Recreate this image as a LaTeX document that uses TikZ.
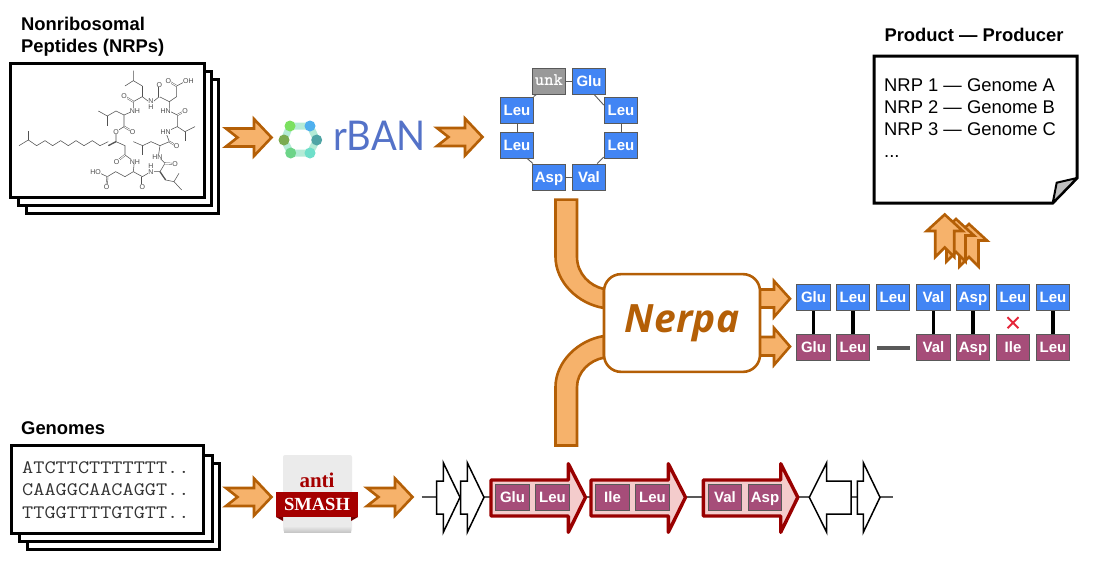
\documentclass[tikz,border=0pt]{standalone}
\usepackage{fontspec}
\setmainfont{Liberation Sans}
\newfontfamily\serifof{Liberation Serif}
\newfontfamily\nerpaf[LetterSpace=1]{Open Sans}
\newfontfamily\rbanf{Lato}
\newcommand{\fs}[1]{\fontsize{#1}{#1}\selectfont}
\definecolor{flowfill}{HTML}{F6B26B}
\definecolor{flowline}{HTML}{B45F06}
\definecolor{modblue}{HTML}{4285F4}
\definecolor{modpurple}{HTML}{A64D79}
\definecolor{modedge}{HTML}{595959}
\definecolor{genered}{HTML}{990000}
\definecolor{genefill}{HTML}{F4CCCC}
\definecolor{rbanblue}{HTML}{5472C8}
\definecolor{ringpale}{HTML}{B4EBD6}
\definecolor{asred}{HTML}{A50000}
\definecolor{crossred}{HTML}{E5263A}
\tikzset{
  flow/.style={draw=flowline,fill=flowfill,line width=2.6pt,line join=miter},
  modbase/.style={draw=modedge,line width=1pt,minimum width=33.5pt,minimum height=26pt,inner sep=0pt,text=white,font=\fs{15}\bfseries,text height=10.8pt,text depth=0pt},
  bluemod/.style={modbase,fill=modblue},
  purplemod/.style={modbase,fill=modpurple},
  greymod/.style={modbase,fill=black!40,font=\fs{17.8}\ttfamily\bfseries,text height=8pt},
  ringlink/.style={draw=modedge,line width=.9pt},
  alignlink/.style={draw=black,line width=3.4pt},
  sheet/.style={draw=black,fill=white,line width=3pt,line join=miter},
  title/.style={font=\fs{18.4}\bfseries,anchor=base west,inner sep=0pt},
  gene/.style={draw=black,fill=white,line width=1.5pt,line join=miter},
  redgene/.style={draw=genered,fill=genefill,line width=3.4pt,line join=round},
  mol/.style={draw=black!68,line width=.55pt},
  molb/.style={draw=black!68,line width=.45pt,double=white,double distance=.9pt},
  atomlab/.style={font=\fs{7},text=black!70,fill=white,inner sep=.3pt,align=center},
  seq/.style={font=\fs{19}\ttfamily,text=black!80,anchor=base west,inner sep=0pt,xscale=1.14,transform shape},
  pairtxt/.style={font=\fs{18.4},anchor=base west,inner sep=0pt},
  chev/.pic={\draw[flow] (-23,-9) -- (5,-9) -- (5,-18.5) -- (22.5,0) -- (5,18.5) -- (5,9) -- (-23,9) -- (-11.5,0) -- cycle;},
  uparr/.pic={\draw[flow] (0,0) -- (18,16.5) -- (9.5,16.5) -- (9.5,42.5) -- (0,33) -- (-9.5,42.5) -- (-9.5,16.5) -- (-18,16.5) -- cycle;}
}
\begin{document}
\begin{tikzpicture}[x=1pt,y=-1pt]
\useasboundingbox (0,0) rectangle (1100,560);
% --- NRP stack
\draw[sheet] (26,79) rectangle (218,213);
\draw[sheet] (18,71) rectangle (211,205);
\draw[sheet] (10,63) rectangle (204,197);
\node[title] (nrpT1) at (21,30) {Nonribosomal};
\node[title] (nrpT2) at (21,52) {Peptides (NRPs)};
% --- molecule
\begin{scope}[x=.3333pt,y=-.3333pt]
\draw[mol] (57,437) -- (85,420) -- (110,437) -- (135,422) -- (158,437) -- (182,422) -- (205,437) -- (228,422) -- (252,437) -- (277,422) -- (300,437) -- (325,425);
\draw[mol] (85,420) -- (85,393);
\draw[mol,line width=1.3pt] (325,437) -- (348,425);
\draw[mol] (348,425) -- (348,395) -- (372,380) -- (372,345) -- (400,333) -- (400,305) -- (427,290);
\draw[molb] (372,380) -- (398,395);
\draw[mol] (372,345) -- (348,333) -- (322,348) -- (295,333);
\draw[mol] (322,348) -- (322,378);
\draw[molb] (400,305) -- (372,288);
\draw[mol,line width=1.3pt] (427,290) -- (427,258);
\draw[mol] (427,258) -- (400,242) -- (400,212);
\draw[mol] (400,242) -- (375,258);
\draw[mol] (427,290) -- (453,310) -- (478,290) -- (508,305) -- (530,290) -- (530,258) -- (558,243);
\draw[molb] (478,290) -- (478,255);
\draw[molb] (530,258) -- (505,243);
\draw[mol] (508,305) -- (508,333) -- (532,345) -- (532,380) -- (555,395) -- (585,380);
\draw[molb] (532,345) -- (555,333);
\draw[mol] (555,395) -- (555,422);
\draw[mol] (532,380) -- (497,396) -- (508,425) -- (480,437) -- (453,425) -- (428,437) -- (400,425);
\draw[molb] (508,425) -- (530,438);
\draw[mol] (428,437) -- (428,465);
\draw[mol] (480,437) -- (475,470) -- (495,490) -- (480,515) -- (453,515) -- (427,530) -- (400,515) -- (375,530) -- (347,515) -- (322,530) -- (290,515);
\draw[molb] (495,490) -- (525,492);
\draw[mol,line width=1.3pt] (480,515) -- (497,540);
\draw[mol] (497,540) -- (522,545) -- (545,570);
\draw[mol] (522,545) -- (537,520);
\draw[molb] (427,530) -- (427,560);
\draw[molb] (322,530) -- (320,560);
\draw[mol] (400,515) -- (403,485) -- (375,465) -- (375,437) -- (348,425);
\draw[molb] (375,465) -- (350,485);
\foreach \ax/\ay/\at [count=\i] in {348/395/O,398/395/O,405/333/NH,372/288/O,453/312/{N\\[-1.5pt]H},478/254/O,505/243/O,565/243/OH,497/333/HN,555/333/O,497/396/HN,530/438/O,472/470/HN,525/492/O,453/508/{H\\[-1.5pt]N},427/560/O,405/485/NH,350/485/O,287/515/HO,320/560/O}
  \node[atomlab] (atom\i) at (\ax,\ay) {\at};
\end{scope}
% --- arrows top
\pic at (249,137.5) {chev};
\pic at (460,137) {chev};
% --- rBAN logo
\draw[ringpale,line width=7pt,line join=round] (290,126) -- (310,126) -- (316.7,140) -- (310,153) -- (290.7,153) -- (284,140) -- cycle;
\foreach \cx/\cy/\cc [count=\i] in {290/126/7BE05F,310/126/4FB0EE,284/140/7AAB50,316.7/140/4FA5A5,290.7/153/6CD488,310/153/6FDFCA}{
  \definecolor{dotc}{HTML}{\cc}
  \node[circle,fill=dotc,minimum size=11pt,inner sep=0pt] (rbandot\i) at (\cx,\cy) {};
}
\node[font=\fs{41}\rbanf,text=rbanblue,inner sep=0pt,anchor=base west,xscale=.93,transform shape] (rban) at (333,150) {rBAN};
% --- ring
\node[greymod] (unk) at (549,81) {unk};
\node[bluemod] (rGlu) at (589,81) {Glu};
\node[bluemod] (rLeuA) at (621,110) {Leu};
\node[bluemod] (rLeuB) at (621,145) {Leu};
\node[bluemod] (rVal) at (589,177) {Val};
\node[bluemod] (rAsp) at (549,177) {Asp};
\node[bluemod] (rLeuC) at (517,145) {Leu};
\node[bluemod] (rLeuD) at (517,110) {Leu};
\draw[ringlink] (unk) -- (rGlu);
\draw[ringlink] (rGlu.-69) -- (rLeuA.164);
\draw[ringlink] (rLeuA) -- (rLeuB);
\draw[ringlink] (rLeuB.-145) -- (rVal.59);
\draw[ringlink] (rVal) -- (rAsp);
\draw[ringlink] (rAsp.140) -- (rLeuC.-53);
\draw[ringlink] (rLeuC) -- (rLeuD);
\draw[ringlink] (rLeuD.39) -- (unk.-133);
% --- tubes and Nerpa
\draw[flow] (555.5,199.6) -- (577,199.6) -- (577,256.7) .. controls (577,274) and (590,286) .. (604,289) -- (604,308) .. controls (578,304) and (555.5,282) .. (555.5,256.7) -- cycle;
\draw[flow] (555.5,445.5) -- (577,445.5) -- (577,387) .. controls (577,372) and (590,360) .. (604,357.7) -- (604,336) .. controls (578,340) and (555.5,362) .. (555.5,387) -- cycle;
\draw[flow] (758,289.5) -- (774,289.5) -- (774,281) -- (790,298.7) -- (774,317) -- (774,307.5) -- (758,307.5) -- cycle;
\draw[flow] (758,337) -- (774,337) -- (774,328) -- (790,346.5) -- (774,365) -- (774,355.5) -- (758,355.5) -- cycle;
\node[draw=flowline,fill=white,line width=2.6pt,rounded corners=17pt,minimum width=156pt,minimum height=97.7pt,inner sep=0pt,font=\fs{39}\nerpaf\bfseries\itshape,text=flowline] (nerpa) at (682,323) {Nerpa};
% --- alignment
\foreach \nm/\cx/\tx in {a/813.5/Glu,b/853/Leu,c/893/Leu,d/933.5/Val,e/973/Asp,f/1013/Leu,g/1053/Leu}
  \node[bluemod] (top\nm) at (\cx,297.3) {\tx};
\foreach \nm/\cx/\tx in {a/813.5/Glu,b/853/Leu,d/933.5/Val,e/973/Asp,f/1013/Ile,g/1053/Leu}
  \node[purplemod] (bot\nm) at (\cx,347.3) {\tx};
\foreach \nm in {a,b,d,e,g}
  \draw[alignlink] (top\nm) -- (bot\nm);
\node[inner sep=0pt,minimum width=33pt,minimum height=3.6pt,fill=modedge] (gapbar) at (893.5,347.7) {};
\coordinate (mismatch) at (1013,322.7);
\draw[draw=crossred,line width=2pt] ([shift={(-5.5,-5.5)}]mismatch) -- ([shift={(5.5,5.5)}]mismatch);
\draw[draw=crossred,line width=2pt] ([shift={(5.5,-5.5)}]mismatch) -- ([shift={(-5.5,5.5)}]mismatch);
% --- up arrows
\pic at (969,224) {uparr};
\pic at (956,219) {uparr};
\pic at (944.7,214.5) {uparr};
% --- result sheet
\draw[sheet] (874,56) -- (1077,56) -- (1077,178) -- (1052.7,203) -- (874,203) -- cycle;
\draw[draw=black,fill=black!25,line width=2pt,line join=round] (1077,178) -- (1056.7,182.7) -- (1052.7,203) -- cycle;
\node[font=\fs{18.4}\bfseries,inner sep=0pt,anchor=base] (prodT) at (974,41) {Product — Producer};
\node[pairtxt] (pair1) at (884,91) {NRP 1 — Genome A};
\node[pairtxt] (pair2) at (884,113) {NRP 2 — Genome B};
\node[pairtxt] (pair3) at (884,135) {NRP 3 — Genome C};
\node[pairtxt] (pair4) at (884,157) {...};
% --- genomes
\draw[sheet] (27,463) rectangle (219,549);
\draw[sheet] (19,455) rectangle (212,541);
\draw[sheet] (11,445) rectangle (203,533);
\node[title] (genT) at (21,434) {Genomes};
\node[seq] (seq1) at (22,473) {ATCTTCTTTTTTT..};
\node[seq] (seq2) at (22,495) {CAAGGCAACAGGT..};
\node[seq] (seq3) at (22,518) {TTGGTTTTGTGTT..};
\pic at (249,497) {chev};
\pic at (390,497) {chev};
% --- antiSMASH logo
\node[fill=black!8,rounded corners=2pt,minimum width=69pt,minimum height=77pt,inner sep=0pt] (asbox) at (317.5,493.5) {};
\shade[top color=black!8,bottom color=black!22] (284,526) rectangle (351,532);
\fill[asred!70!black] (276,517) -- (283,521) -- (283,515) -- cycle;
\fill[asred!70!black] (358,517) -- (351,521) -- (351,515) -- cycle;
\node[fill=asred,minimum width=82pt,minimum height=25pt,inner sep=0pt,font=\fs{18.5}\serifof\bfseries,text=white] (asribbon) at (317,504.5) {SMASH};
\node[font=\fs{21}\serifof\bfseries,text=asred,inner sep=0pt] (asanti) at (317,480) {anti};
% --- gene track
\coordinate (trackL) at (421.7,497.3);
\coordinate (trackR) at (893,497.3);
\draw[draw=modedge,line width=1.8pt] (trackL) -- (trackR);
\draw[gene] (436.7,481) -- (443.3,481) -- (443.3,462.7) -- (460,497.3) -- (443.3,532.3) -- (443.3,514) -- (436.7,514) -- cycle;
\draw[gene] (460.7,481) -- (467.3,481) -- (467.3,462.7) -- (484,497.3) -- (467.3,532.3) -- (467.3,514) -- (460.7,514) -- cycle;
\draw[gene] (851,481) -- (826.7,481) -- (826.7,462.7) -- (809.3,497.3) -- (826.7,532.3) -- (826.7,514) -- (851,514) -- cycle;
\draw[gene] (857.3,481) -- (863.3,481) -- (863.3,462.7) -- (880,497.3) -- (863.3,532.3) -- (863.3,514) -- (857.3,514) -- cycle;
\draw[redgene] (491,480) -- (568.3,480) -- (568.3,463.7) -- (585.5,497.3) -- (568.3,532.3) -- (568.3,516) -- (491,516) -- cycle;
\draw[redgene] (591,480) -- (668.3,480) -- (668.3,463.7) -- (685.5,497.3) -- (668.3,532.3) -- (668.3,516) -- (591,516) -- cycle;
\draw[redgene] (703.3,480) -- (780.7,480) -- (780.7,463.7) -- (797.8,497.3) -- (780.7,532.3) -- (780.7,516) -- (703.3,516) -- cycle;
\node[purplemod] (gGlu) at (512.5,497.5) {Glu};
\node[purplemod] (gLeuA) at (552.5,497.5) {Leu};
\node[purplemod] (gIle) at (612.5,497.5) {Ile};
\node[purplemod] (gLeuB) at (652.5,497.5) {Leu};
\node[purplemod] (gVal) at (725,497.5) {Val};
\node[purplemod] (gAsp) at (765,497.5) {Asp};
\end{tikzpicture}
\end{document}
